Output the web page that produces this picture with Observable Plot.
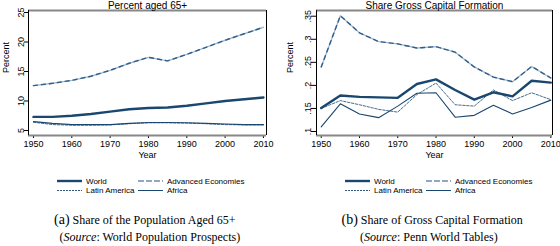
<!DOCTYPE html>
<html><head><meta charset="utf-8">
<script src="https://cdn.jsdelivr.net/npm/d3@7"></script>
<script src="https://cdn.jsdelivr.net/npm/@observablehq/plot@0.6"></script>
<style>
body{margin:0;background:#fff;}
#wrap{position:relative;width:560px;height:246px;overflow:hidden;font-family:"Liberation Sans",Arial,sans-serif;}
.panel{position:absolute;top:0;}
.cap{position:absolute;font-family:"Liberation Serif","Times New Roman",serif;font-size:12px;text-align:center;white-space:nowrap;line-height:1;}
.cap b{font-weight:normal;font-size:14px;}
</style></head><body><div id="wrap"></div>
<script>
const years = [1950,1955,1960,1965,1970,1975,1980,1985,1990,1995,2000,2005,2010];
// Percent aged 65+
const popWorld    = [7.3,7.3,7.5,7.8,8.2,8.6,8.8,8.9,9.2,9.6,10.0,10.3,10.6];
const popAdvanced = [12.6,13.0,13.5,14.2,15.2,16.4,17.4,16.8,17.9,19.1,20.3,21.4,22.5];
const popLatin    = [6.4,6.0,5.9,5.9,5.95,6.15,6.3,6.3,6.25,6.15,6.0,5.95,5.95];
const popAfrica   = [6.5,6.2,6.0,6.0,6.0,6.2,6.35,6.35,6.3,6.2,6.1,6.0,6.0];
// Share of gross capital formation
const gcfWorld    = [.151,.178,.175,.174,.173,.203,.213,.19,.169,.185,.176,.21,.206];
const gcfAdvanced = [.24,.351,.314,.295,.29,.281,.284,.272,.24,.218,.208,.241,.216];
const gcfLatin    = [.15,.167,.158,.148,.142,.18,.205,.158,.155,.19,.167,.184,.169];
const gcfAfrica   = [.11,.16,.138,.13,.155,.183,.184,.131,.135,.157,.138,.152,.168];
const seriesNames = ["World","Advanced Economies","Latin America","Africa"];
const popTicks = [5,10,15,20,25];
const gcfTicks = [.1,.15,.2,.25,.3,.35];
const yearTicks = [1950,1960,1970,1980,1990,2000,2010];

const NAVY="#1a476f", LIGHT="#90a8c0", MID="#2e5f8c";
const tidy = arr => years.map((y,i)=>({year:y,value:arr[i]}));

function panel(opts){
  const [w,a,l,f] = opts.series.map(tidy);
  const [x0,x1]=opts.xdom,[y0,y1]=opts.ydom;
  return Plot.plot({
    width:280,height:162,
    marginLeft:opts.ml,marginRight:opts.mr,marginTop:10,marginBottom:27,
    style:{fontFamily:"Liberation Sans, Arial, sans-serif",fontSize:"9px",background:"#fff",color:"#000"},
    x:{domain:opts.xdom},
    y:{domain:opts.ydom},
    marks:[
      Plot.axisX({ticks:yearTicks,tickSize:3,tickPadding:2,tickFormat:d=>String(d),label:null,fontSize:9}),
      Plot.axisY({ticks:opts.yticks,tickSize:opts.ts,tickPadding:1,tickRotate:-90,tickFormat:opts.fmt,label:null,fontSize:9}),
      Plot.ruleY([y1],{stroke:"#888",strokeWidth:2}),
      Plot.ruleY([y0],{stroke:"#888",strokeWidth:2}),
      Plot.ruleX([x0],{stroke:"#000",strokeWidth:1}),
      Plot.ruleX([x1],{stroke:"#000",strokeWidth:1}),
      Plot.line(f,{x:"year",y:"value",stroke:NAVY,strokeWidth:1.1}),
      Plot.line(l,{x:"year",y:"value",stroke:NAVY,strokeWidth:1,strokeDasharray:"2.5 1.5",strokeOpacity:0.8}),
      Plot.line(a,{x:"year",y:"value",stroke:"#a8bccf",strokeWidth:1.4}),
      Plot.line(a,{x:"year",y:"value",stroke:MID,strokeWidth:1.4,strokeDasharray:"4 4"}),
      Plot.line(w,{x:"year",y:"value",stroke:NAVY,strokeWidth:2.4}),
      Plot.text([opts.title],{frameAnchor:"top",dy:-5,fontSize:10,lineAnchor:"middle"}),
      Plot.text(["Year"],{frameAnchor:"bottom",dy:20,fontSize:9,lineAnchor:"middle"}),
      Plot.text(["Percent"],{frameAnchor:"left",dx:opts.pdx,rotate:-90,fontSize:9,lineAnchor:"middle"})
    ]
  });
}

function legend(x){
  const ns="http://www.w3.org/2000/svg";
  const svg=document.createElementNS(ns,"svg");
  svg.setAttribute("width",280);svg.setAttribute("height",30);
  const styles=[
    {stroke:NAVY,w:2.4,dash:null},
    {stroke:LIGHT,w:2,dash:"6 2"},
    {stroke:NAVY,w:0.9,dash:"2 1"},
    {stroke:NAVY,w:1,dash:null}];
  seriesNames.forEach((n,i)=>{
    const col=i%2,row=Math.floor(i/2);
    const lx=x+col*81, ly=6+row*9.5;
    const ln=document.createElementNS(ns,"line");
    ln.setAttribute("x1",lx);ln.setAttribute("x2",lx+25);ln.setAttribute("y1",ly);ln.setAttribute("y2",ly);
    ln.setAttribute("stroke",styles[i].stroke);ln.setAttribute("stroke-width",styles[i].w);
    if(styles[i].dash) ln.setAttribute("stroke-dasharray",styles[i].dash);
    svg.appendChild(ln);
    const t=document.createElementNS(ns,"text");
    t.setAttribute("x",lx+29);t.setAttribute("y",ly+2.8);t.setAttribute("font-size","8");
    t.setAttribute("font-family","Liberation Sans, Arial, sans-serif");
    t.textContent=n;svg.appendChild(t);
  });
  return svg;
}

const wrap=document.getElementById("wrap");
function place(el,left,top){const d=document.createElement("div");d.className="panel";d.style.left=left+"px";d.style.top=top+"px";d.appendChild(el);wrap.appendChild(d);}

place(panel({series:[popWorld,popAdvanced,popLatin,popAfrica],xdom:[1948.7,2010.8],ydom:[4.15,25.34],
  ml:28,mr:14,yticks:popTicks,fmt:d=>String(d),ts:4,title:"Percent aged 65+",pdx:-22}),0,0);
place(panel({series:[gcfWorld,gcfAdvanced,gcfLatin,gcfAfrica],xdom:[1948.77,2010.44],ydom:[.0913,.3624],
  ml:36,mr:8,yticks:gcfTicks,fmt:d=>String(d).replace(/^0/,""),ts:5,title:"Share Gross Capital Formation",pdx:-26}),280,0);
place(legend(57),0,175);
place(legend(65),280,175);

function cap(html,cx,cy){const d=document.createElement("div");d.className="cap";d.innerHTML=html;wrap.appendChild(d);
  const w=d.offsetWidth,h=d.offsetHeight;d.style.left=(cx-w/2)+"px";d.style.top=(cy-h/2)+"px";}
cap("<b>(a)</b> Share of the Population Aged 65+",145,220);
cap("(<i>Source</i>: World Population Prospects)",150,237);
cap("<b>(b)</b> Share of Gross Capital Formation",432,220);
cap("(<i>Source</i>: Penn World Tables)",429,237);
</script></body></html>
